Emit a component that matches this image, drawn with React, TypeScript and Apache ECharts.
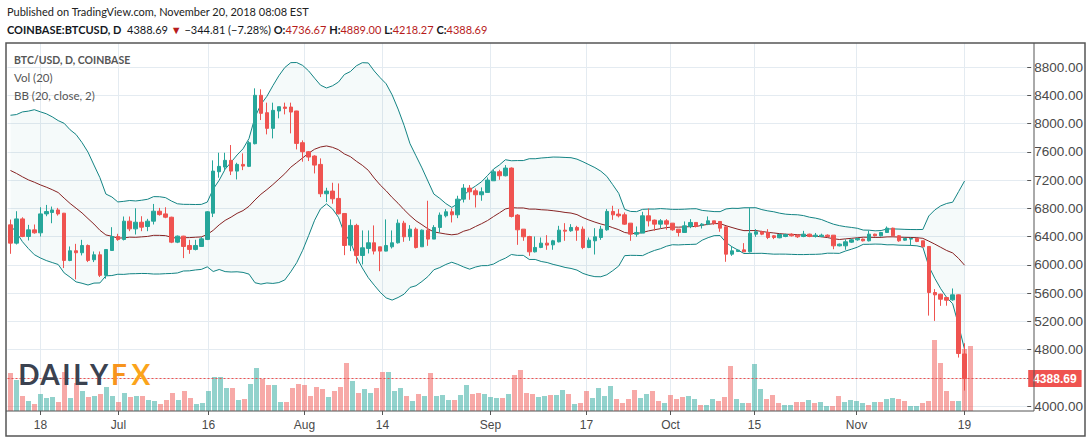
import React, { useEffect, useRef } from 'react';
import * as echarts from 'echarts';

// ---- data ----
const startDay = Date.UTC(2018, 5, 13);
const totalSlots = 171; // 161 trading days + empty future slots
const categories: string[] = Array.from({ length: totalSlots }, (_, i) =>
  new Date(startDay + i * 86400000).toISOString().slice(0, 10)
);

const tickDates = ['2018-06-18', '2018-07-01', '2018-07-16', '2018-08-01', '2018-08-14', '2018-09-01', '2018-09-17', '2018-10-01', '2018-10-15', '2018-11-01', '2018-11-19'];
const tickLabels = ['18', 'Jul', '16', 'Aug', '14', 'Sep', '17', 'Oct', '15', 'Nov', '19'];

const opens = [
  6565, 6306, 6649, 6400, 6494, 6452, 6720, 6740, 6776, 6730,
  6061, 6198, 6170, 6273, 6071, 6141, 5850, 6202, 6400, 6358,
  6617, 6508, 6602, 6541, 6617, 6758, 6720, 6673, 6320, 6405,
  6273, 6217, 6259, 6358, 6730, 7317, 7383, 7478, 7326, 7421,
  7393, 7714, 8399, 8153, 7931, 8177, 8233, 8233, 8177, 7728,
  7600, 7539, 7421, 7005, 7043, 6939, 6726, 6278, 6557, 6131,
  6231, 6311, 6254, 6193, 6254, 6311, 6589, 6396, 6504, 6254,
  6490, 6363, 6528, 6693, 6750, 6707, 6929, 7085, 7047, 6991,
  7024, 7189, 7317, 7260, 7369, 6703, 6504, 6400, 6183, 6245,
  6306, 6282, 6325, 6490, 6481, 6528, 6504, 6244, 6339, 6386,
  6495, 6755, 6717, 6707, 6589, 6433, 6448, 6693, 6632, 6575,
  6622, 6589, 6504, 6457, 6542, 6599, 6560, 6575, 6622, 6613,
  6537, 6150, 6188, 6211, 6183, 6433, 6467, 6457, 6410, 6382,
  6400, 6433, 6419, 6400, 6433, 6400, 6400, 6419, 6419, 6268,
  6268, 6320, 6353, 6363, 6339, 6433, 6410, 6457, 6518, 6410,
  6348, 6363, 6372, 6339, 6259, 5607, 5583, 5536, 5503, 5574, 4736.67,
];
const highs = [
  6640, 6758, 6672, 6565, 6570, 6814, 6847, 6824, 6805, 6734,
  6259, 6296, 6353, 6287, 6188, 6188, 6216, 6532, 6438, 6683,
  6683, 6800, 6687, 6650, 6861, 6805, 6814, 6680, 6414, 6410,
  6353, 6353, 6391, 6760, 7478, 7586, 7586, 7695, 7444, 7577,
  7751, 8498, 8484, 8295, 8295, 8238, 8295, 8295, 8180, 7761,
  7610, 7550, 7506, 7090, 7161, 7151, 6730, 6642, 6580, 6486,
  6486, 6557, 6254, 6642, 6486, 6642, 6622, 6561, 6528, 6500,
  6906, 6561, 6740, 6788, 6797, 6977, 7142, 7128, 7080, 7095,
  7236, 7345, 7345, 7411, 7378, 6717, 6504, 6410, 6400, 6386,
  6419, 6353, 6551, 6589, 6575, 6551, 6542, 6386, 6518, 6551,
  6788, 6835, 6788, 6740, 6589, 6542, 6750, 6797, 6640, 6646,
  6646, 6589, 6504, 6613, 6646, 6599, 6589, 6684, 6622, 6613,
  6537, 6259, 6215, 6306, 6811, 6504, 6481, 6504, 6420, 6440,
  6440, 6445, 6430, 6480, 6440, 6450, 6440, 6430, 6420, 6300,
  6360, 6370, 6380, 6370, 6480, 6440, 6465, 6542, 6525, 6420,
  6385, 6385, 6375, 6340, 6260, 5655, 5590, 5545, 5664, 5580, 4889.0,
];
const lows = [
  6155, 6287, 6390, 6344, 6440, 6400, 6687, 6588, 6696, 5953,
  6050, 5793, 6132, 6038, 6038, 5826, 5803, 6202, 6339, 6344,
  6475, 6428, 6475, 6475, 6570, 6696, 6659, 6306, 6306, 6094,
  6155, 6203, 6254, 6349, 6675, 7232, 7326, 7270, 7208, 7340,
  7383, 7704, 8049, 7846, 7789, 8073, 8129, 7860, 7633, 7459,
  7468, 7293, 6958, 6887, 6864, 6712, 6136, 6193, 6018, 6004,
  6160, 6146, 5909, 6190, 6230, 6300, 6325, 6339, 6230, 6254,
  6268, 6363, 6457, 6670, 6599, 6660, 6882, 6920, 6811, 6906,
  7024, 7189, 7203, 7251, 6670, 6282, 6339, 6126, 6174, 6235,
  6212, 6212, 6316, 6339, 6467, 6339, 6221, 6235, 6145, 6353,
  6481, 6636, 6670, 6566, 6339, 6396, 6448, 6542, 6481, 6518,
  6495, 6481, 6400, 6450, 6518, 6528, 6513, 6561, 6566, 6467,
  6042, 6126, 6180, 6180, 6174, 6396, 6419, 6363, 6363, 6375,
  6390, 6400, 6380, 6390, 6390, 6385, 6390, 6395, 6220, 6260,
  6212, 6310, 6340, 6330, 6330, 6400, 6400, 6450, 6405, 6325,
  6340, 6268, 6320, 6245, 5280, 5205, 5418, 5420, 5490, 4686, 4218.27,
];
const closes = [
  6306, 6649, 6400, 6494, 6452, 6720, 6753, 6776, 6720, 6061,
  6198, 6170, 6273, 6061, 6141, 5850, 6216, 6400, 6358, 6617,
  6508, 6602, 6532, 6617, 6758, 6710, 6673, 6320, 6405, 6259,
  6217, 6273, 6367, 6750, 7326, 7393, 7478, 7326, 7421, 7397,
  7728, 8399, 8144, 7931, 8186, 8238, 8214, 8162, 7718, 7600,
  7525, 7411, 7005, 7043, 6934, 6722, 6273, 6557, 6131, 6240,
  6311, 6193, 6193, 6273, 6311, 6589, 6396, 6504, 6244, 6490,
  6363, 6528, 6703, 6750, 6707, 6929, 7085, 7033, 6991, 7033,
  7199, 7317, 7260, 7369, 6684, 6495, 6396, 6183, 6245, 6306,
  6278, 6339, 6490, 6476, 6528, 6490, 6244, 6348, 6396, 6504,
  6755, 6707, 6693, 6575, 6433, 6457, 6693, 6622, 6575, 6622,
  6575, 6495, 6457, 6551, 6599, 6542, 6575, 6622, 6589, 6518,
  6150, 6197, 6207, 6183, 6447, 6467, 6433, 6386, 6386, 6429,
  6428, 6410, 6396, 6433, 6400, 6419, 6419, 6400, 6268, 6292,
  6325, 6353, 6372, 6339, 6433, 6410, 6457, 6518, 6410, 6339,
  6372, 6372, 6330, 6254, 5607, 5574, 5512, 5498, 5574, 4743, 4388.69,
];
// closes of the 19 sessions before the first visible candle (BB warm-up)
const warmupCloses = [7480, 7355, 7360, 7120, 7470, 7400, 7495, 7530, 7640, 7720, 7500, 7620, 7660, 7690, 7620, 7530, 6770, 6880, 6550];

// volume, thousand BTC
const volumes = [
  19, 15.5, 7.5, 5, 3.5, 8.5, 6.5, 7, 4.5, 19.5,
  6.5, 14, 10, 7, 7.5, 8.5, 12, 7.5, 4.5, 9,
  7, 7.5, 7.5, 5.5, 5, 3.5, 5.5, 9, 5.5, 10,
  6.5, 3.5, 4, 10, 17, 17, 11.5, 11.5, 5.5, 6,
  13.5, 21.5, 16, 13, 13, 4.5, 4.5, 11.5, 13.5, 13,
  7.5, 12, 11, 7, 10, 12, 24, 15, 9, 11,
  9, 11.5, 19.5, 19.5, 10, 11.5, 7.5, 5, 8.5, 7.5,
  19, 7.5, 8, 5.5, 5.5, 8, 13, 8.5, 9, 8.5,
  7, 6.5, 6.5, 8.5, 18, 20.5, 9, 8.5, 7, 7.5,
  8, 8, 10.5, 8.5, 3.5, 4, 10, 6.5, 11.5, 7.5,
  12.5, 6, 4, 6, 10.5, 6.5, 8.5, 10, 5, 4,
  8, 6, 7, 7.5, 6, 3, 3, 6, 5, 7,
  22.5, 6, 4, 4, 23.5, 11, 6, 8, 4, 3,
  3, 4.5, 4.5, 5.5, 4, 4.5, 2.5, 2.5, 7.5, 4.5,
  5.5, 5, 4, 3, 4.5, 4.5, 6, 6.5, 6, 5,
  2.5, 2.5, 4, 5, 35.5, 24, 10, 5, 5, 31, 32.5,
];

const priceTicks = { min: 4000, max: 8800, step: 400 };

// ---- colours ----
const UP = '#26a69a';
const DOWN = '#ef5350';
const GRID = '#e4ebf1';
const TXT = '#4a4a4a';
const UI_FONT = 'Lato, sans-serif';

// Bollinger bands (20, close, 2)
const bbUpper: number[] = [];
const bbMid: number[] = [];
const bbLower: number[] = [];
const allCloses = [...warmupCloses, ...closes];
closes.forEach((_, i) => {
  const win = allCloses.slice(i, i + 20);
  const m = win.reduce((a, b) => a + b, 0) / win.length;
  const sd = Math.sqrt(win.reduce((a, b) => a + (b - m) * (b - m), 0) / win.length);
  bbMid.push(m);
  bbUpper.push(m + 2 * sd);
  bbLower.push(m - 2 * sd);
});
const bbWidth = bbUpper.map((u, i) => u - bbLower[i]);

const lastClose = closes[closes.length - 1];

const isTick = (_i: number, v: string) => tickDates.indexOf(v) >= 0;

const W = 1086;
const H = 443;

function buildOption(): any {
  const candleData = opens.map((o, i) => [o, closes[i], lows[i], highs[i]]);
  const volData = volumes.map((v, i) => ({
    value: v,
    itemStyle: { color: closes[i] >= opens[i] ? 'rgba(38,166,154,0.5)' : 'rgba(239,83,80,0.5)' },
  }));

  const logoLetters = [
    { t: 'D', x: 29, c: '#3b4250' },
    { t: 'A', x: 50, c: '#3b4250' },
    { t: 'I', x: 66.5, c: '#3b4250' },
    { t: 'L', x: 80.5, c: '#3b4250' },
    { t: 'Y', x: 99, c: '#3b4250' },
    { t: 'F', x: 119, c: '#f7941d' },
    { t: 'X', x: 141, c: '#fba41b' },
  ];

  return {
    animation: false,
    backgroundColor: '#ffffff',
    textStyle: { fontFamily: 'Liberation Sans, Arial, sans-serif' },
    grid: [
      { left: 7.5, right: W - 1033.5, top: 67, bottom: H - 406 },
      { left: 7.5, right: W - 1033.5, top: 43, bottom: H - 411 },
    ],
    xAxis: [
      {
        type: 'category', gridIndex: 0, data: categories,
        axisLine: { show: false }, axisTick: { show: false }, axisLabel: { show: false }, splitLine: { show: false },
      },
      {
        type: 'category', gridIndex: 1, data: categories,
        axisLine: { show: false },
        axisTick: { show: true, interval: isTick, alignWithLabel: true, length: 4, lineStyle: { color: '#555' } },
        axisLabel: {
          show: true, interval: isTick, margin: 8, color: TXT, fontSize: 12,
          formatter: (v: string) => tickLabels[tickDates.indexOf(v)] ?? '',
        },
        splitLine: { show: true, interval: isTick, alignWithLabel: true, lineStyle: { color: GRID, width: 1 } },
      },
    ],
    yAxis: [
      {
        type: 'value', gridIndex: 0, position: 'right',
        min: priceTicks.min, max: priceTicks.max, interval: priceTicks.step,
        axisLine: { show: false },
        axisTick: { show: true, length: 4, lineStyle: { color: '#555' } },
        axisLabel: {
          color: TXT, fontSize: 13.5, margin: 7,
          // the level right under the last-price tag is hidden, as in the reference
          formatter: (v: number) => (Math.abs(v - lastClose) < 150 ? '' : v.toFixed(2)),
        },
        splitLine: { show: true, lineStyle: { color: GRID, width: 1 } },
      },
      {
        type: 'value', gridIndex: 1, min: 0, max: 184,
        show: false, splitLine: { show: false },
      },
    ],
    series: [
      {
        name: 'Vol', type: 'bar', xAxisIndex: 1, yAxisIndex: 1, data: volData, barWidth: 5, z: 1,
      },
      {
        name: 'BB lower', type: 'line', xAxisIndex: 0, yAxisIndex: 0, data: bbLower, stack: 'bb',
        symbol: 'none', clip: false, z: 3,
        lineStyle: { color: '#138484', width: 1 },
      },
      {
        name: 'BB fill', type: 'line', xAxisIndex: 0, yAxisIndex: 0, data: bbWidth, stack: 'bb',
        symbol: 'none', clip: false, z: 2,
        lineStyle: { opacity: 0, width: 0 },
        areaStyle: { color: 'rgba(25,135,135,0.06)' },
      },
      {
        name: 'BB upper', type: 'line', xAxisIndex: 0, yAxisIndex: 0, data: bbUpper,
        symbol: 'none', clip: false, z: 3,
        lineStyle: { color: '#138484', width: 1 },
      },
      {
        name: 'BB basis', type: 'line', xAxisIndex: 0, yAxisIndex: 0, data: bbMid,
        symbol: 'none', clip: false, z: 3,
        lineStyle: { color: '#872323', width: 1 },
      },
      {
        name: 'BTCUSD', type: 'candlestick', xAxisIndex: 0, yAxisIndex: 0, data: candleData,
        barWidth: 4, clip: false, z: 5,
        itemStyle: { color: UP, color0: DOWN, borderColor: UP, borderColor0: DOWN, borderWidth: 1 },
        markLine: {
          silent: true, symbol: 'none', animation: false,
          data: [{ yAxis: lastClose }],
          lineStyle: { color: DOWN, type: [2, 2], width: 1 },
          label: {
            show: true, position: 'end', distance: 1,
            formatter: lastClose.toFixed(2),
            backgroundColor: DOWN, color: '#ffffff', fontWeight: 'bold', fontSize: 12,
            padding: [3, 5, 2, 5],
          },
        },
      },
    ],
    graphic: [
      // header
      {
        type: 'text', x: 7, y: 11, z: 100,
        style: {
          text: 'Published on TradingView.com, November 20, 2018 08:08 EST',
          fill: '#222', fontSize: 11, fontFamily: UI_FONT, verticalAlign: 'middle',
        },
      },
      {
        type: 'text', x: 7, y: 29, z: 100,
        style: {
          text:
            '{b|COINBASE:BTCUSD, D}{n|  4388.69 }{r|▼}{n| −344.81 (−7.28%) }' +
            '{b|O:}{r|4736.67 }{b|H:}{r|4889.00 }{b|L:}{r|4218.27 }{b|C:}{r|4388.69}',
          verticalAlign: 'middle',
          rich: {
            b: { fill: '#131722', fontSize: 11, fontWeight: 'bold', fontFamily: UI_FONT },
            n: { fill: '#131722', fontSize: 11, fontFamily: UI_FONT },
            r: { fill: '#b71c1c', fontSize: 11, fontFamily: UI_FONT },
          },
        },
      },
      // legend inside the pane
      {
        type: 'text', x: 14, y: 60, z: 100,
        style: { text: 'BTC/USD, D, COINBASE', fill: '#555', fontSize: 10.5, fontWeight: 'bold', fontFamily: UI_FONT, verticalAlign: 'middle' },
      },
      {
        type: 'text', x: 14, y: 77, z: 100,
        style: { text: 'Vol (20)', fill: '#555', fontSize: 11.5, fontFamily: UI_FONT, verticalAlign: 'middle' },
      },
      {
        type: 'text', x: 14, y: 95, z: 100,
        style: { text: 'BB (20, close, 2)', fill: '#555', fontSize: 11.5, fontFamily: UI_FONT, verticalAlign: 'middle' },
      },
      // DailyFX logo
      ...logoLetters.map((l) => ({
        type: 'text', x: l.x, y: 374, z: 90,
        style: {
          text: l.t, fill: l.c, fontSize: 28, fontWeight: 'bold', fontFamily: UI_FONT,
          align: 'center', verticalAlign: 'middle',
        },
      })),
      // frame
      {
        type: 'rect', z: 100, silent: true,
        shape: { x: 6, y: 43, width: 1079, height: 393 },
        style: { fill: 'none', stroke: '#555', lineWidth: 1.5 },
      },
      {
        type: 'line', z: 100, silent: true,
        shape: { x1: 1034, y1: 43, x2: 1034, y2: 411 },
        style: { stroke: '#555', lineWidth: 1 },
      },
      {
        type: 'line', z: 100, silent: true,
        shape: { x1: 6, y1: 411, x2: 1034, y2: 411 },
        style: { stroke: '#555', lineWidth: 1 },
      },
    ],
  };
}

export default function App() {
  const ref = useRef<HTMLDivElement>(null);
  useEffect(() => {
    if (!ref.current) return;
    const chart = echarts.init(ref.current, null, { renderer: 'svg' });
    chart.setOption(buildOption());
    return () => chart.dispose();
  }, []);
  return (
    <div
      ref={ref}
      style={{ position: 'absolute', left: 0, top: 0, width: W, height: H, overflow: 'hidden', background: '#fff' }}
    />
  );
}
